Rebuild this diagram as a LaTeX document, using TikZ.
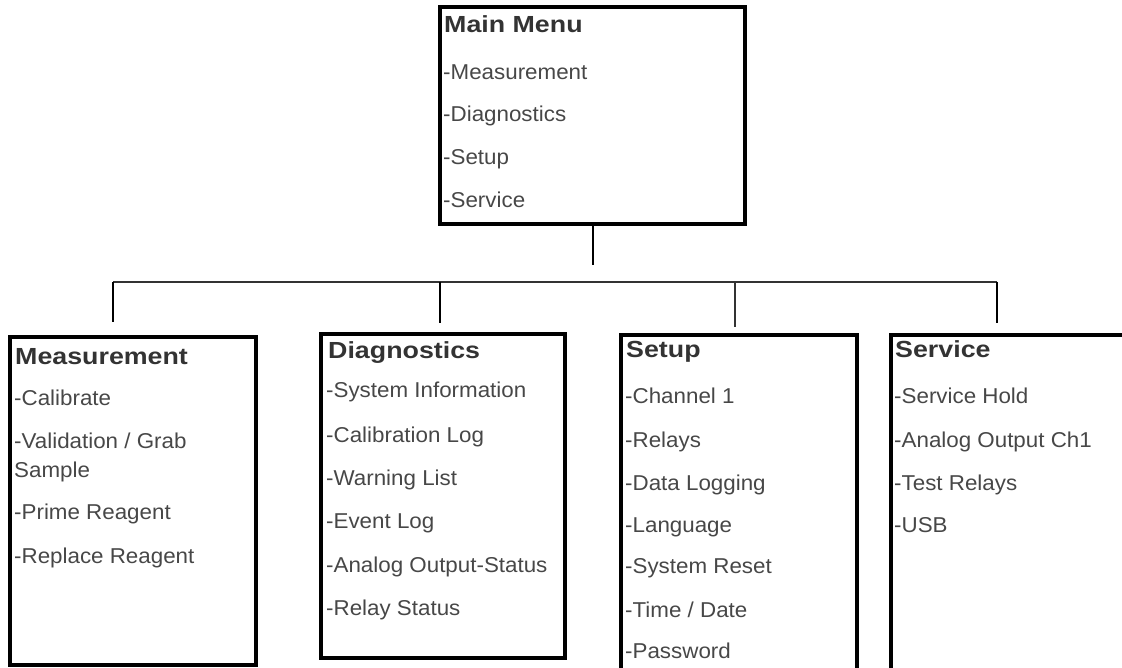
\documentclass[tikz,border=0pt]{standalone}
\usepackage{fontspec}
\setmainfont{Liberation Sans}
\newfontfamily\headfont[FakeStretch=1.15]{Liberation Sans}
\newfontfamily\itemfont[FakeStretch=1.04]{Liberation Sans}
\begin{document}
\begin{tikzpicture}[x=1pt,y=-1pt,
  box/.style={draw=black, line width=3.5pt, inner sep=0pt, outer sep=0pt, anchor=north west},
  stem/.style={draw=black, line width=2pt},
  bar/.style={draw=black!80, line width=1.3pt},
  head/.style={anchor=base west, inner sep=0pt, font=\headfont\bfseries\fontsize{23.3}{27}\selectfont, text=black!80},
  item/.style={anchor=base west, inner sep=0pt, font=\itemfont\fontsize{21.5}{25}\selectfont, text=black!72}]
\useasboundingbox (0,0) rectangle (1122,668);
\clip (0,0) rectangle (1122,668);
% boxes
\node[box, minimum width=305pt, minimum height=217pt] (main) at (440,7) {};
\node[box, minimum width=246pt, minimum height=328pt] (meas) at (10,337) {};
\node[box, minimum width=244pt, minimum height=324pt] (diag) at (321,334) {};
\node[box, minimum width=236pt, minimum height=380pt] (setup) at (621,335) {};
\node[box, minimum width=260pt, minimum height=380pt] (serv) at (891,335) {};
% main menu text
\node[head] (mh) at (444,33) {Main Menu};
\node[item] (m1) at (443,80) {-Measurement};
\node[item] (m2) at (443,122) {-Diagnostics};
\node[item] (m3) at (443,165) {-Setup};
\node[item] (m4) at (443,208) {-Service};
% measurement
\node[head] (ah) at (15,364) {Measurement};
\node[item] (a1) at (14,405) {-Calibrate};
\node[item] (a2) at (14,448) {-Validation / Grab};
\node[item] (a2b) at (14,477) {Sample};
\node[item] (a3) at (14,519) {-Prime Reagent};
\node[item] (a4) at (14,563) {-Replace Reagent};
% diagnostics
\node[head] (dh) at (328,359) {Diagnostics};
\node[item] (d1) at (326,397) {-System Information};
\node[item] (d2) at (326,442) {-Calibration Log};
\node[item] (d3) at (326,485) {-Warning List};
\node[item] (d4) at (326,528) {-Event Log};
\node[item] (d5) at (326,572) {-Analog Output-Status};
\node[item] (d6) at (326,615) {-Relay Status};
% setup
\node[head] (sh) at (626,357) {Setup};
\node[item] (s1) at (625,403) {-Channel 1};
\node[item] (s2) at (625,447) {-Relays};
\node[item] (s3) at (625,490) {-Data Logging};
\node[item] (s4) at (625,532) {-Language};
\node[item] (s5) at (625,573) {-System Reset};
\node[item] (s6) at (625,617) {-Time / Date};
\node[item] (s7) at (625,658) {-Password};
% service
\node[head] (vh) at (895,357) {Service};
\node[item] (v1) at (894,403) {-Service Hold};
\node[item] (v2) at (894,447) {-Analog Output Ch1};
\node[item] (v3) at (894,490) {-Test Relays};
\node[item] (v4) at (894,532) {-USB};
% connectors
\coordinate (mstem) at (593,265);
\coordinate (hl) at (113,282);
\coordinate (hd) at (440,282);
\coordinate (hs) at (735,282);
\coordinate (hr) at (997,282);
\coordinate (el) at (113,322);
\coordinate (ed) at (440,323);
\coordinate (es) at (735,327);
\coordinate (er) at (997,323);
\draw[stem] (main.south -| mstem) -- (mstem);
\draw[bar] (hl) -- (hr);
\draw[stem] (hl) -- (el);
\draw[stem] (hd) -- (ed);
\draw[bar] (hs) -- (es);
\draw[stem] (hr) -- (er);
\end{tikzpicture}
\end{document}
